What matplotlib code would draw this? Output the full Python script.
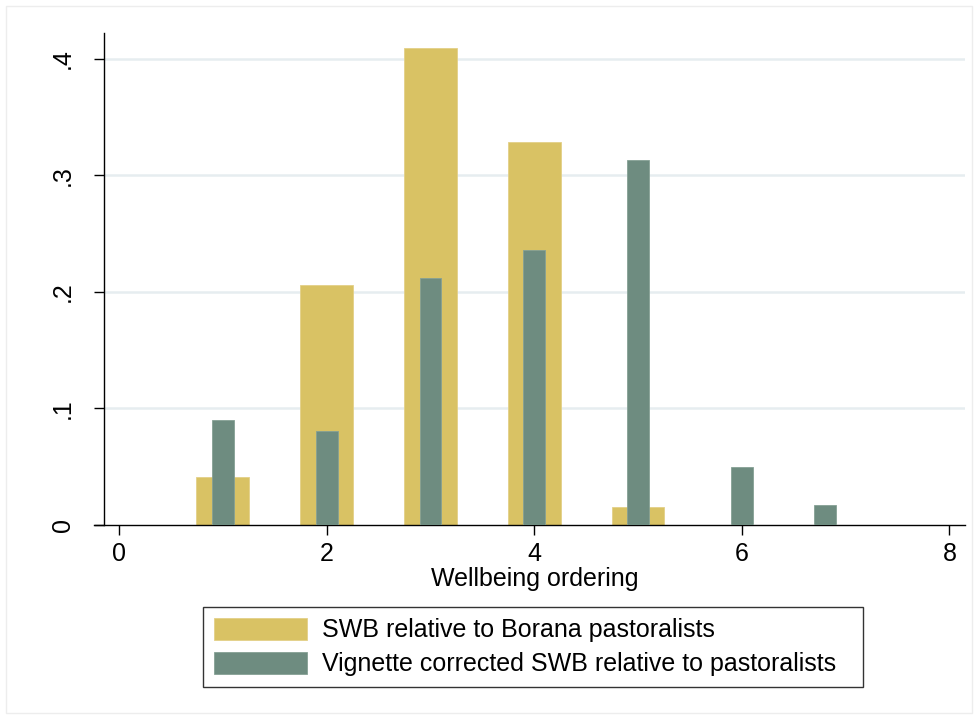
import matplotlib
matplotlib.use('Agg')
import matplotlib.pyplot as plt
from matplotlib.patches import Rectangle

plt.rcParams['font.family'] = ['Liberation Sans', 'DejaVu Sans']

# Wellbeing ordering distributions
swb_x = [1, 2, 3, 4, 5]
swb_share = [0.041, 0.206, 0.409, 0.329, 0.0155]

vig_x = [1, 2, 3, 4, 5, 6, 6.8]
vig_share = [0.090, 0.081, 0.212, 0.236, 0.313, 0.050, 0.017]

labels = ['SWB relative to Borana pastoralists',
          'Vignette corrected SWB relative to pastoralists']
yticks = [0, 0.1, 0.2, 0.3, 0.4]
ytick_labels = ['0', '.1', '.2', '.3', '.4']
xticks = [0, 2, 4, 6, 8]

fig = plt.figure(figsize=(9.78, 7.17), dpi=100)
# faint outer graph-region frame
fig.patches.append(Rectangle((0.006, 0.006), 0.988, 0.985, transform=fig.transFigure,
                             fill=False, edgecolor='#EDEDED', linewidth=1.0))

ax = fig.add_axes([0.0961, 0.2678, 0.8906, 0.6862])
xmin, xmax = -0.241, 8.15
yaxis_at = -0.149

ax.bar(swb_x, swb_share, width=0.51, color='#D9C264', edgecolor='#E3D088',
       linewidth=0.6, label=labels[0], zorder=2)
ax.bar(vig_x, vig_share, width=0.21, color='#6E8C80', edgecolor='#86A195',
       linewidth=0.6, label=labels[1], zorder=3)

# gridlines start at the y axis, like the original
ax.hlines(yticks[1:], yaxis_at, xmax, color='#E6EDF0', linewidth=1.8, zorder=0)

ax.set_xlim(xmin, xmax)
ax.set_ylim(0, 0.4223)
ax.spines['left'].set_position(('data', yaxis_at))
for s in ['top', 'right']:
    ax.spines[s].set_visible(False)
ax.spines['left'].set_linewidth(1.0)
ax.spines['bottom'].set_linewidth(1.0)

ax.set_xticks(xticks)
ax.set_xticklabels([str(t) for t in xticks], fontsize=18)
ax.set_yticks(yticks)
ax.set_yticklabels(ytick_labels, fontsize=18, rotation=90, va='center')
ax.tick_params(axis='x', length=7.5, width=1.0, pad=5)
ax.tick_params(axis='y', length=7.5, width=1.0, pad=13)
ax.set_xlabel('Wellbeing ordering', fontsize=18, labelpad=0)
ax.xaxis.set_label_coords((535 - 94) / 871, -0.086)

# legend box spans the same region as the original (x 203-863, y 606-688 px)
leg = fig.legend(loc='center', mode='expand',
                 bbox_to_anchor=(203 / 978, 1 - 688 / 717, 660 / 978, 82 / 717),
                 ncol=1, fontsize=18, frameon=True, fancybox=False, edgecolor='black',
                 handlelength=3.72, handleheight=1.0, handletextpad=0.6,
                 labelspacing=0.36, borderpad=0.42, borderaxespad=0)
leg.get_frame().set_linewidth(1.0)

plt.savefig('out.png', dpi=100)
